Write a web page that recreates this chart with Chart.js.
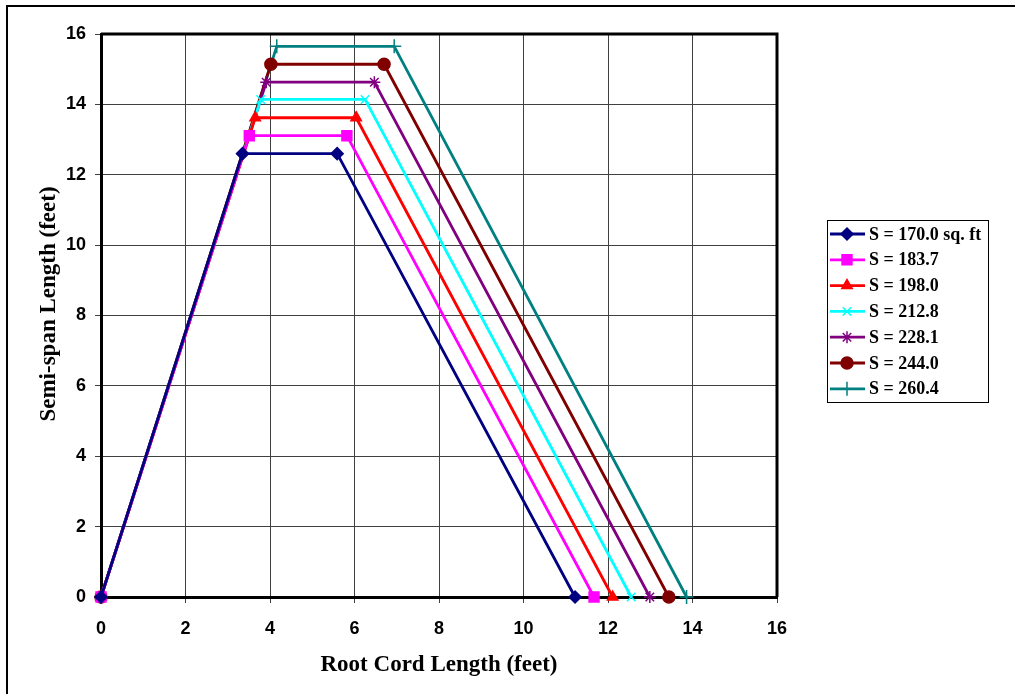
<!DOCTYPE html>
<html>
<head>
<meta charset="utf-8">
<script src="https://cdn.jsdelivr.net/npm/chart.js@4/dist/chart.umd.min.js"></script>
<style>
  html, body { margin: 0; padding: 0; background: #fff; }
  #wrap { width: 1015px; height: 694px; }
</style>
</head>
<body>
<div id="wrap"><canvas id="wingChart" width="1015" height="694"></canvas></div>
<script>
// planform outlines: root (0,0) -> tip leading edge -> tip trailing edge -> root trailing edge
const seriesNames = ['S = 170.0 sq. ft', 'S = 183.7', 'S = 198.0', 'S = 212.8', 'S = 228.1', 'S = 244.0', 'S = 260.4'];
const chordX = [
    [0, 3.35, 5.59, 11.22],
    [0, 3.51, 5.82, 11.67],
    [0, 3.65, 6.04, 12.11],
    [0, 3.78, 6.25, 12.55],
    [0, 3.91, 6.47, 12.99],
    [0, 4.02, 6.70, 13.44],
    [0, 4.16, 6.94, 13.86]
];
const spanY = [
    [0, 12.60, 12.60, 0],
    [0, 13.11, 13.11, 0],
    [0, 13.62, 13.62, 0],
    [0, 14.14, 14.14, 0],
    [0, 14.63, 14.63, 0],
    [0, 15.14, 15.14, 0],
    [0, 15.65, 15.65, 0]
];
const xTicks = [0, 2, 4, 6, 8, 10, 12, 14, 16];
const yTicks = [0, 2, 4, 6, 8, 10, 12, 14, 16];

const colors = ['#000080', '#ff00ff', '#ff0000', '#00ffff', '#800080', '#800000', '#008080'];
const markers = ['rectRot', 'rect', 'triangle', 'crossRot', 'star', 'circle', 'cross'];
const radii = [6, 7, 6, 6, 6, 6, 7];

const datasets = seriesNames.map(function(name, i) {
    return {
        label: name,
        data: chordX[i].map(function(x, j) { return { x: x, y: spanY[i][j] }; }),
        showLine: true,
        borderColor: colors[i],
        backgroundColor: colors[i],
        borderWidth: 2.8,
        pointStyle: markers[i],
        pointRadius: radii[i],
        pointBorderWidth: 1.5,
        pointBorderColor: colors[i],
        pointBackgroundColor: colors[i],
        tension: 0,
        clip: false
    };
});

const tickFont = { family: '"Liberation Sans", Arial, sans-serif', size: 18, weight: 'bold' };
const titleFont = { family: '"Liberation Serif", "Times New Roman", serif', size: 23, weight: 'bold' };

// frame round the plot, outer page border and the boxed legend
const framePlugin = {
    id: 'frame',
    afterDraw: function(chart) {
        const ctx = chart.ctx;
        const a = chart.chartArea;
        ctx.save();
        ctx.strokeStyle = '#000';
        ctx.lineWidth = 3;
        ctx.beginPath();
        ctx.moveTo(a.left, a.top);
        ctx.lineTo(a.right, a.top);
        ctx.lineTo(a.right, a.bottom);
        ctx.stroke();

        ctx.lineWidth = 2;
        ctx.beginPath();
        ctx.moveTo(7, chart.height);
        ctx.lineTo(7, 6);
        ctx.lineTo(chart.width, 6);
        ctx.stroke();

        // legend
        const lx = 827, ly = 220, lw = 161, lh = 182;
        ctx.lineWidth = 1;
        ctx.strokeRect(lx + 0.5, ly + 0.5, lw, lh);
        ctx.font = 'bold 18px "Liberation Serif", "Times New Roman", serif';
        ctx.textBaseline = 'middle';
        ctx.textAlign = 'left';
        chart.data.datasets.forEach(function(ds, i) {
            const y = 234 + i * 25.8;
            ctx.strokeStyle = ds.borderColor;
            ctx.lineWidth = 2.8;
            ctx.beginPath();
            ctx.moveTo(lx + 3, y);
            ctx.lineTo(lx + 38, y);
            ctx.stroke();
            if (Chart.helpers && Chart.helpers.drawPoint) {
                ctx.fillStyle = ds.pointBackgroundColor;
                ctx.strokeStyle = ds.pointBorderColor;
                ctx.lineWidth = ds.pointBorderWidth;
                Chart.helpers.drawPoint(ctx, { pointStyle: ds.pointStyle, radius: ds.pointRadius, rotation: 0, borderWidth: ds.pointBorderWidth }, lx + 20, y);
            }
            ctx.fillStyle = '#000';
            ctx.fillText(ds.label, lx + 42, y + 1);
        });
        ctx.restore();
    }
};

const ctx = document.getElementById('wingChart').getContext('2d');
const wingChart = new Chart(ctx, {
    type: 'scatter',
    data: { datasets: datasets },
    options: {
        responsive: false,
        animation: false,
        layout: { padding: { left: 0, top: 34, right: 238, bottom: 0 } },
        plugins: {
            legend: { display: false },
            tooltip: { enabled: false }
        },
        scales: {
            x: {
                type: 'linear',
                min: 0,
                max: 16,
                afterBuildTicks: function(scale) { scale.ticks = xTicks.map(function(v) { return { value: v }; }); },
                afterFit: function(scale) { scale.height = 97; },
                ticks: { font: tickFont, color: '#000', padding: 15, maxRotation: 0 },
                grid: { color: '#404040', lineWidth: 1, tickLength: 6, tickColor: '#404040' },
                border: { color: '#000', width: 3 },
                title: { display: true, text: 'Root Cord Length (feet)', font: titleFont, color: '#000', padding: { top: 0, bottom: 15 } }
            },
            y: {
                type: 'linear',
                min: 0,
                max: 16,
                afterBuildTicks: function(scale) { scale.ticks = yTicks.map(function(v) { return { value: v }; }); },
                afterFit: function(scale) { scale.width = 101; },
                ticks: { font: tickFont, color: '#000', padding: 9 },
                grid: { color: '#404040', lineWidth: 1, tickLength: 6, tickColor: '#404040' },
                border: { color: '#000', width: 3 },
                title: { display: true, text: '\u00a0\u00a0\u00a0\u00a0Semi-span Length (feet)', font: titleFont, color: '#000', padding: { top: 35, bottom: 0 } }
            }
        }
    },
    plugins: [framePlugin]
});
</script>
</body>
</html>
